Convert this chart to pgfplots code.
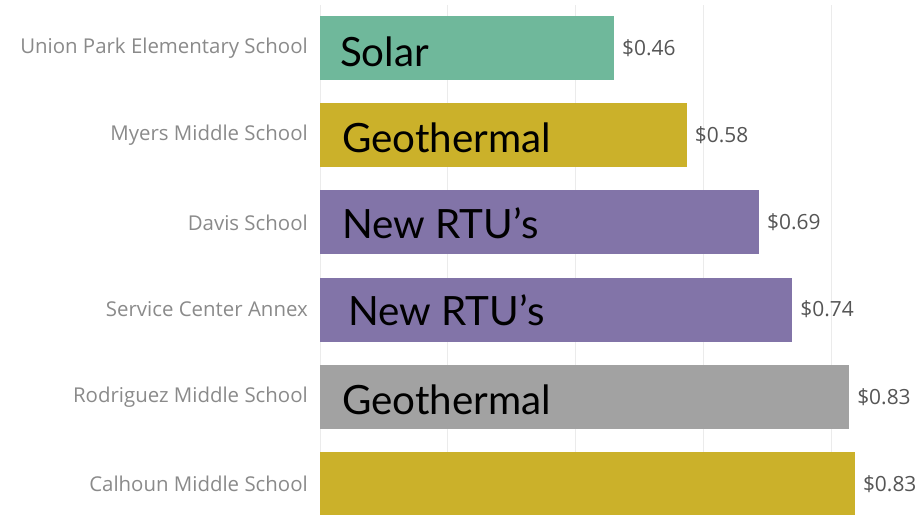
\documentclass[border=0pt]{standalone}
\usepackage{pgfplots}
\pgfplotsset{compat=1.18}
\usepackage{fontspec}
\setmainfont{Open Sans}
\newfontfamily\bigfont{Lato}
\definecolor{solar}{HTML}{6FB89B}
\definecolor{geo}{HTML}{CBB12A}
\definecolor{rtu}{HTML}{8274A8}
\definecolor{gry}{HTML}{A2A2A2}
\definecolor{labelgray}{HTML}{8A8A8A}
\definecolor{valgray}{HTML}{555555}
\begin{document}
\begin{tikzpicture}
\useasboundingbox (0,0) rectangle (920bp,-515bp);
\begin{axis}[
  at={(320bp,-5bp)}, anchor=north west,
  scale only axis, width=600bp, height=510bp,
  xmin=0, xmax=0.939, ymin=-0.493, ymax=5.356, y dir=reverse,
  axis line style={draw=none},
  xtick={0,0.2,0.4,0.6,0.8}, xticklabels={},
  xmajorgrids, major grid style={draw=black!8, line width=1bp},
  ytick={0,1,2,3,4,5},
  yticklabels={Union Park Elementary School, Myers Middle School, Davis School, Service Center Annex, Rodriguez Middle School, Calhoun Middle School},
  major tick length=0pt, tick style={draw=none},
  yticklabel style={font=\fontsize{20.5}{22}\selectfont, text=labelgray, anchor=east, inner sep=0pt, xshift=-12bp},
  xbar, bar width=64bp, bar shift=0pt,
  nodes near coords, point meta=explicit symbolic,
  every node near coord/.append style={font=\fontsize{21}{22}\selectfont, text=valgray, anchor=west, inner sep=0pt, xshift=8bp},
  clip=false,
]
\addplot[fill=solar, draw=none] coordinates {(0.460,0) [\$0.46]};
\addplot[fill=geo, draw=none] coordinates {(0.574,1) [\$0.58]};
\addplot[fill=rtu, draw=none] coordinates {(0.687,2) [\$0.69]};
\addplot[fill=rtu, draw=none] coordinates {(0.739,3) [\$0.74]};
\addplot[fill=gry, draw=none] coordinates {(0.828,4) [\$0.83]};
\addplot[fill=geo, draw=none] coordinates {(0.837,5) [\$0.83]};
\node[anchor=base west, inner sep=0pt, font=\bigfont\fontsize{40.5}{44}\selectfont] at (axis cs:0.0313,0.215) {Solar};
\node[anchor=base west, inner sep=0pt, font=\bigfont\fontsize{40.5}{44}\selectfont] at (axis cs:0.0344,1.195) {Geothermal};
\node[anchor=base west, inner sep=0pt, font=\bigfont\fontsize{40.5}{44}\selectfont] at (axis cs:0.0344,2.18) {New RTU’s};
\node[anchor=base west, inner sep=0pt, font=\bigfont\fontsize{40.5}{44}\selectfont] at (axis cs:0.0438,3.18) {New RTU’s};
\node[anchor=base west, inner sep=0pt, font=\bigfont\fontsize{40.5}{44}\selectfont] at (axis cs:0.0344,4.2) {Geothermal};
\end{axis}
\end{tikzpicture}
\end{document}
